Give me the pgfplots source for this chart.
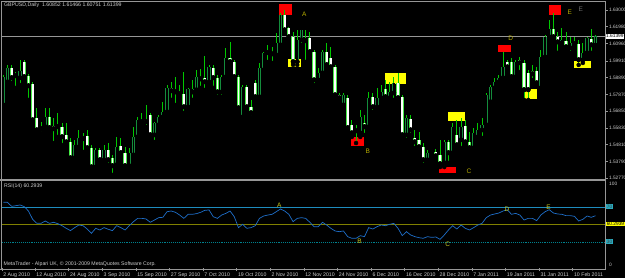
\documentclass[border=0pt]{standalone}
\usepackage{fontspec}
\setmainfont{Liberation Sans}
\usepackage{pgfplots}
\usepackage{pgfplotstable}
\pgfplotsset{compat=1.18}
\definecolor{framegray}{RGB}{150,150,150}
\definecolor{textgray}{RGB}{205,205,205}
\definecolor{wickgreen}{RGB}{0,200,0}
\definecolor{bearline}{RGB}{70,235,70}
\definecolor{bullline}{RGB}{20,140,60}
\definecolor{rsiblue}{RGB}{30,110,200}
\definecolor{lvlseventy}{RGB}{30,140,190}
\definecolor{lvlfifty}{RGB}{128,128,0}
\definecolor{lvlthirty}{RGB}{0,128,140}
\definecolor{mtred}{RGB}{255,0,0}
\definecolor{mtyellow}{RGB}{255,255,0}
\definecolor{lettermain}{RGB}{185,175,0}
\definecolor{letterrsi}{RGB}{200,200,30}
\definecolor{lettergray}{RGB}{110,110,110}
\definecolor{lvlbox}{RGB}{40,170,190}
\newcommand\lab{\fontsize{5.2pt}{6pt}\selectfont}
\newcommand\rlab{\fontsize{4.8pt}{5.5pt}\selectfont}
\newcommand\letfont{\fontsize{6.5pt}{7pt}\selectfont}

\pgfplotstableread{
i o h l c
0 1.5722 1.5905 1.5710 1.5893
1 1.5862 1.5966 1.5856 1.5947
2 1.5947 1.5966 1.5856 1.5887
3 1.5905 1.5923 1.5826 1.5899
4 1.5887 1.5996 1.5844 1.5929
5 1.5984 1.5996 1.5874 1.5893
6 1.5899 1.5911 1.5753 1.5838
7 1.5850 1.5862 1.5619 1.5631
8 1.5643 1.5704 1.5558 1.5570
9 1.5583 1.5619 1.5552 1.5577
10 1.5589 1.5704 1.5583 1.5649
11 1.5649 1.5704 1.5570 1.5583
12 1.5595 1.5643 1.5491 1.5577
13 1.5589 1.5674 1.5528 1.5595
14 1.5589 1.5613 1.5479 1.5528
15 1.5540 1.5613 1.5491 1.5497
16 1.5497 1.5522 1.5376 1.5400
17 1.5400 1.5510 1.5388 1.5479
18 1.5467 1.5570 1.5461 1.5522
19 1.5522 1.5552 1.5437 1.5516
20 1.5534 1.5570 1.5437 1.5461
21 1.5461 1.5479 1.5327 1.5345
22 1.5345 1.5461 1.5339 1.5449
23 1.5449 1.5461 1.5376 1.5388
24 1.5388 1.5479 1.5376 1.5449
25 1.5449 1.5491 1.5358 1.5388
26 1.5400 1.5418 1.5297 1.5352
27 1.5358 1.5528 1.5345 1.5467
28 1.5473 1.5522 1.5418 1.5431
29 1.5431 1.5467 1.5345 1.5352
30 1.5352 1.5461 1.5345 1.5431
31 1.5418 1.5589 1.5406 1.5528
32 1.5528 1.5649 1.5522 1.5631
33 1.5619 1.5674 1.5613 1.5631
34 1.5619 1.5722 1.5589 1.5631
35 1.5662 1.5674 1.5528 1.5540
36 1.5540 1.5619 1.5497 1.5613
37 1.5601 1.5662 1.5589 1.5649
38 1.5649 1.5741 1.5631 1.5680
39 1.5680 1.5844 1.5668 1.5826
40 1.5826 1.5862 1.5753 1.5808
41 1.5814 1.5893 1.5722 1.5801
42 1.5801 1.5844 1.5765 1.5789
43 1.5789 1.5923 1.5674 1.5710
44 1.5710 1.5826 1.5704 1.5820
45 1.5801 1.5874 1.5753 1.5820
46 1.5814 1.5935 1.5795 1.5893
47 1.5880 1.5941 1.5826 1.5893
48 1.5887 1.6020 1.5814 1.5862
49 1.5862 1.5966 1.5856 1.5953
50 1.5947 1.5966 1.5826 1.5887
51 1.5887 1.5905 1.5771 1.5801
52 1.5801 1.5905 1.5771 1.5893
53 1.5893 1.6069 1.5887 1.6008
54 1.6008 1.6105 1.5966 1.5984
55 1.5984 1.5996 1.5874 1.5893
56 1.5893 1.5905 1.5692 1.5704
57 1.5649 1.5844 1.5631 1.5832
58 1.5832 1.5844 1.5692 1.5710
59 1.5710 1.5753 1.5649 1.5674
60 1.5856 1.5874 1.5753 1.5771
61 1.5771 1.5978 1.5753 1.5947
62 1.5935 1.6045 1.5923 1.6039
63 1.6045 1.6087 1.5984 1.6039
64 1.6045 1.6075 1.5978 1.6032
65 1.6026 1.6160 1.6008 1.6099
66 1.6087 1.6282 1.6075 1.6270
67 1.6270 1.6300 1.6166 1.6178
68 1.6191 1.6197 1.6130 1.6136
69 1.6136 1.6166 1.5966 1.5984
70 1.5984 1.6178 1.5966 1.6118
71 1.6118 1.6178 1.6087 1.6178
72 1.6124 1.6178 1.5984 1.6112
73 1.6130 1.6166 1.6039 1.6045
74 1.6045 1.6057 1.5844 1.5874
75 1.5874 1.5947 1.5856 1.5917
76 1.5917 1.6057 1.5905 1.6045
77 1.6045 1.6099 1.5947 1.5966
78 1.6008 1.6075 1.5947 1.5953
79 1.5953 1.5966 1.5771 1.5783
80 1.5783 1.5795 1.5741 1.5765
81 1.5722 1.5795 1.5710 1.5783
82 1.5765 1.5783 1.5570 1.5583
83 1.5601 1.5631 1.5528 1.5552
84 1.5570 1.5601 1.5491 1.5564
85 1.5552 1.5692 1.5528 1.5649
86 1.5613 1.5662 1.5540 1.5589
87 1.5589 1.5801 1.5570 1.5765
88 1.5771 1.5795 1.5680 1.5710
89 1.5710 1.5826 1.5692 1.5765
90 1.5765 1.5844 1.5753 1.5801
91 1.5820 1.5874 1.5753 1.5771
92 1.5765 1.5862 1.5753 1.5801
93 1.5795 1.5893 1.5753 1.5856
94 1.5856 1.5917 1.5753 1.5765
95 1.5771 1.5783 1.5528 1.5540
96 1.5540 1.5662 1.5510 1.5643
97 1.5637 1.5662 1.5540 1.5570
98 1.5522 1.5570 1.5461 1.5497
99 1.5510 1.5558 1.5449 1.5467
100 1.5467 1.5491 1.5358 1.5388
101 1.5388 1.5449 1.5370 1.5431
102 1.5437 1.5449 1.5418 1.5431
103 1.5437 1.5455 1.5406 1.5412
104 1.5418 1.5510 1.5345 1.5364
105 1.5370 1.5510 1.5345 1.5497
106 1.5497 1.5510 1.5370 1.5431
107 1.5431 1.5613 1.5418 1.5589
108 1.5540 1.5631 1.5467 1.5479
109 1.5510 1.5643 1.5461 1.5589
110 1.5595 1.5631 1.5491 1.5497
111 1.5497 1.5558 1.5449 1.5461
112 1.5461 1.5583 1.5449 1.5552
113 1.5528 1.5613 1.5510 1.5570
114 1.5570 1.5643 1.5522 1.5601
115 1.5601 1.5795 1.5589 1.5783
116 1.5741 1.5844 1.5735 1.5832
117 1.5826 1.5887 1.5814 1.5862
118 1.5862 1.5905 1.5856 1.5887
119 1.5887 1.6045 1.5874 1.5953
120 1.5984 1.5996 1.5935 1.5953
121 1.5984 1.6008 1.5887 1.5893
122 1.5893 1.5996 1.5887 1.5984
123 1.5996 1.6014 1.5923 1.5978
124 1.5978 1.5996 1.5753 1.5814
125 1.5917 1.5935 1.5753 1.5814
126 1.5929 1.5966 1.5874 1.5911
127 1.5929 1.5953 1.5844 1.5856
128 1.5826 1.6057 1.5814 1.6014
129 1.6014 1.6148 1.6008 1.6136
130 1.6136 1.6239 1.6130 1.6184
131 1.6184 1.6282 1.6118 1.6136
132 1.6136 1.6166 1.6039 1.6105
133 1.6099 1.6191 1.6075 1.6118
134 1.6112 1.6166 1.6057 1.6075
135 1.6069 1.6136 1.6039 1.6099
136 1.6105 1.6136 1.6075 1.6093
137 1.6093 1.6118 1.5966 1.5996
138 1.5996 1.6099 1.5978 1.6039
139 1.6039 1.6136 1.6026 1.6130
140 1.6124 1.6184 1.6039 1.6087
141 1.60852 1.61466 1.60751 1.61399
}\candles

\pgfplotstableread{
i r
0 75.6
1 75.6
2 71.0
3 71.8
4 72.6
5 70.7
6 65.7
7 56.2
8 51.6
9 51.6
10 54.3
11 51.6
12 52.8
13 51.2
14 48.9
15 45.9
16 43.3
17 46.7
18 49.7
19 48.9
20 45.1
21 40.2
22 45.9
23 44.0
24 46.7
25 44.8
26 43.3
27 48.9
28 46.7
29 44.0
30 48.9
31 53.5
32 57.3
33 57.3
34 56.6
35 52.8
36 55.4
37 58.1
38 58.5
39 64.9
40 65.7
41 64.2
42 61.1
43 57.3
44 61.9
45 61.9
46 62.7
47 64.2
48 66.5
49 66.9
50 59.2
51 57.3
52 61.1
53 63.0
54 65.7
55 59.2
56 46.7
57 50.5
58 45.9
59 46.7
60 48.9
61 57.3
62 60.0
63 61.1
64 61.9
65 64.9
66 68.0
67 65.7
68 61.9
69 53.5
70 57.3
71 58.1
72 57.3
73 52.8
74 47.8
75 47.8
76 52.8
77 49.7
78 45.9
79 42.9
80 42.1
81 42.9
82 36.4
83 34.5
84 34.5
85 37.5
86 36.4
87 46.7
88 45.1
89 47.8
90 49.7
91 48.9
92 50.5
93 51.6
94 45.9
95 37.5
96 42.1
97 38.3
98 36.4
99 35.2
100 34.5
101 36.4
102 35.6
103 36.0
104 33.3
105 38.3
106 44.0
107 48.9
108 45.1
109 49.7
110 45.9
111 44.0
112 46.7
113 49.7
114 51.6
115 58.1
116 61.1
117 62.3
118 63.4
119 65.7
120 67.2
121 61.9
122 63.0
123 61.1
124 55.4
125 57.3
126 57.3
127 54.7
128 61.1
129 64.9
130 67.2
131 63.4
132 62.3
133 61.9
134 60.4
135 60.4
136 59.6
137 54.3
138 56.2
139 60.0
140 58.5
141 60.29
}\rsi

\begin{document}
\begin{tikzpicture}
\useasboundingbox (0pt,0pt) rectangle (625pt,278pt);
\fill[black] (0pt,0pt) rectangle (625pt,278pt);

% ---------------- price panel ----------------
\begin{axis}[
  at={(2pt,98.5pt)}, anchor=south west, scale only axis,
  width=603pt, height=177.5pt,
  xmin=-0.3, xmax=143.27, ymin=1.52694, ymax=1.63486,
  clip mode=individual,
  axis line style={draw=none},
  xtick=\empty,
  ytick={1.52770,1.53790,1.54810,1.55830,1.56850,1.57870,1.58890,1.59910,1.60960,1.61980,1.63000},
  yticklabels={1.52770,1.53790,1.54810,1.55830,1.56850,1.57870,1.58890,1.59910,1.60960,1.61980,1.63000},
  ytick pos=right, yticklabel pos=right,
  tick align=outside, major tick length=2.5pt,
  tick style={framegray, line width=0.6pt},
  yticklabel style={font=\rlab, text=textgray, anchor=west, inner sep=0pt, xshift=1.3pt},
  /pgf/number format/assume math mode=true,
]
% current price line
\addplot[framegray, line width=0.6pt, forget plot] coordinates {(-0.3,1.61399) (143.27,1.61399)};
% marker rectangles
\addplot[fill=mtred, draw=none, forget plot] coordinates {(65.7,1.62696) (68.8,1.62696) (68.8,1.63365) (65.7,1.63365)} -- cycle;
\addplot[fill=mtyellow, draw=none, forget plot] coordinates {(67.8,1.59534) (70.9,1.59534) (70.9,1.60021) (67.8,1.60021)} -- cycle;
\addplot[fill=mtyellow, draw=none, forget plot] coordinates {(90.9,1.58501) (95.8,1.58501) (95.8,1.59151) (90.9,1.59151)} -- cycle;
\addplot[fill=mtred, draw=none, forget plot] coordinates {(82.8,1.54731) (85.8,1.54731) (85.8,1.55297) (82.8,1.55297)} -- cycle;
\addplot[fill=mtyellow, draw=none, forget plot] coordinates {(105.9,1.56269) (109.9,1.56269) (109.9,1.56780) (105.9,1.56780)} -- cycle;
\addplot[fill=mtred, draw=none, forget plot] coordinates {(103.8,1.53071) (107.9,1.53071) (107.9,1.53436) (103.8,1.53436)} -- cycle;
\addplot[fill=mtred, draw=none, forget plot] coordinates {(117.9,1.60465) (120.9,1.60465) (120.9,1.60872) (117.9,1.60872)} -- cycle;
\addplot[fill=mtyellow, draw=none, forget plot] coordinates {(124.0,1.57589) (127.0,1.57589) (127.0,1.58179) (124.0,1.58179)} -- cycle;
\addplot[fill=mtred, draw=none, forget plot] coordinates {(129.9,1.62696) (132.9,1.62696) (132.9,1.63304) (129.9,1.63304)} -- cycle;
\addplot[fill=mtyellow, draw=none, forget plot] coordinates {(135.9,1.59455) (139.9,1.59455) (139.9,1.59881) (135.9,1.59881)} -- cycle;
% wicks
\addplot[only marks, mark=none, forget plot,
  error bars/.cd, y dir=plus, y explicit, error mark=none,
  error bar style={line width=0.9pt, draw=wickgreen}]
  table[x=i, y=l, y error expr=\thisrow{h}-\thisrow{l}] {\candles};
% bear bodies (white)
\addplot[only marks, mark=none, forget plot,
  error bars/.cd, y dir=plus, y explicit, error mark=none,
  error bar style={line width=3.2pt, draw=bearline}]
  table[x=i, y expr={min(\thisrow{o},\thisrow{c})}, y error expr={max(\thisrow{o}-\thisrow{c},0)}] {\candles};
\addplot[only marks, mark=none, forget plot,
  error bars/.cd, y dir=plus, y explicit, error mark=none,
  error bar style={line width=1.7pt, draw=white}]
  table[x=i, y expr={min(\thisrow{o},\thisrow{c})+0.00025}, y error expr={max(\thisrow{o}-\thisrow{c}-0.0005,0)}] {\candles};
% bull bodies (black)
\addplot[only marks, mark=none, forget plot,
  error bars/.cd, y dir=plus, y explicit, error mark=none,
  error bar style={line width=3.2pt, draw=bullline}]
  table[x=i, y expr={min(\thisrow{o},\thisrow{c})}, y error expr={max(\thisrow{c}-\thisrow{o},0)}] {\candles};
\addplot[only marks, mark=none, forget plot,
  error bars/.cd, y dir=plus, y explicit, error mark=none,
  error bar style={line width=1.7pt, draw=black}]
  table[x=i, y expr={min(\thisrow{o},\thisrow{c})+0.00025}, y error expr={max(\thisrow{c}-\thisrow{o}-0.0005,0)}] {\candles};
% letters
\node[font=\letfont, text=lettermain] at (axis cs:71.7,1.62757) {A};
\node[font=\letfont, text=lettermain] at (axis cs:86.8,1.54385) {B};
\node[font=\letfont, text=lettermain] at (axis cs:110.9,1.53211) {C};
\node[font=\letfont, text=lettermain] at (axis cs:120.8,1.61279) {D};
\node[font=\letfont, text=lettermain] at (axis cs:134.9,1.62836) {E};
\node[font=\letfont, text=lettergray] at (axis cs:137.5,1.63061) {E};
% current price box
\node[anchor=west, fill=white, text=black, font=\rlab, inner sep=0.6pt, xshift=0.4pt] at (axis cs:143.27,1.61399) {1.61399};
\end{axis}

% ---------------- RSI panel ----------------
\begin{axis}[
  at={(2pt,9.5pt)}, anchor=south west, scale only axis,
  width=603pt, height=87.5pt,
  xmin=-0.3, xmax=143.27, ymin=0, ymax=100,
  clip mode=individual,
  axis line style={draw=none},
  ytick=\empty,
  xtick={-0.3,7.58,15.58,23.58,31.58,39.58,47.58,55.58,63.58,71.58,79.58,87.58,95.58,103.58,111.58,119.58,127.58,135.58},
  xticklabels={2 Aug 2010,12 Aug 2010,24 Aug 2010,3 Sep 2010,15 Sep 2010,27 Sep 2010,7 Oct 2010,19 Oct 2010,2 Nov 2010,12 Nov 2010,24 Nov 2010,6 Dec 2010,16 Dec 2010,28 Dec 2010,7 Jan 2011,19 Jan 2011,31 Jan 2011,10 Feb 2011},
  xtick pos=bottom, tick align=outside, major tick length=3pt,
  tick style={framegray, line width=0.6pt},
  xticklabel style={font=\lab, text=textgray, anchor=north west, inner sep=0pt, xshift=1.2pt, yshift=-1.5pt},
]
\addplot[lvlseventy, line width=0.7pt, forget plot] coordinates {(-0.3,70) (143.27,70)};
\addplot[lvlfifty, line width=0.9pt, forget plot] coordinates {(-0.3,50) (143.27,50)};
\addplot[lvlthirty, line width=0.9pt, densely dotted, forget plot] coordinates {(-0.3,30) (143.27,30)};
\addplot[rsiblue, line width=0.7pt, forget plot] table[x=i, y=r] {\rsi};
\node[font=\letfont, text=letterrsi] at (axis cs:65.7,72.6) {A};
\node[font=\letfont, text=letterrsi] at (axis cs:84.8,31.4) {B};
\node[font=\letfont, text=letterrsi] at (axis cs:105.8,27.7) {C};
\node[font=\letfont, text=letterrsi] at (axis cs:119.9,68) {D};
\node[font=\letfont, text=letterrsi] at (axis cs:129.8,69.5) {E};
\end{axis}

% frame lines
\draw[framegray, line width=0.7pt] (1.7pt,9pt) -- (1.7pt,276.3pt) -- (605pt,276.3pt) -- (605pt,8pt);
\draw[framegray, line width=0.7pt] (0pt,9pt) -- (605pt,9pt);
\draw[framegray, line width=2pt] (0pt,98pt) -- (605pt,98pt);

% texts
\node[anchor=west, font=\lab, text=textgray, inner sep=0pt] at (4pt,273pt) {GBPUSD,Daily\ \ 1.60852 1.61466 1.60751 1.61399};
\node[anchor=west, font=\lab, text=textgray, inner sep=0pt] at (4pt,91.5pt) {RSI(14) 60.2939};
\node[anchor=west, font=\lab, text=textgray, inner sep=0pt] at (3.5pt,13.7pt) {MetaTrader - Alpari UK, \textcopyright\ 2001-2009 MetaQuotes Software Corp.};
\node[anchor=west, font=\rlab, text=textgray, inner sep=0pt] at (609pt,94pt) {100};
\node[anchor=west, font=\rlab, text=textgray, inner sep=0pt] at (609pt,13pt) {0};
\node[anchor=west, font=\rlab, fill=lvlbox, text=black!75, inner sep=0.7pt] at (606pt,71.2pt) {70};
\node[anchor=west, font=\rlab, fill=mtyellow, text=black, inner sep=0.6pt] at (606pt,53.8pt) {60.2939};
\node[anchor=west, font=\rlab, fill=lvlbox, text=black!75, inner sep=0.7pt] at (606pt,36.3pt) {30};
\end{tikzpicture}
\end{document}
